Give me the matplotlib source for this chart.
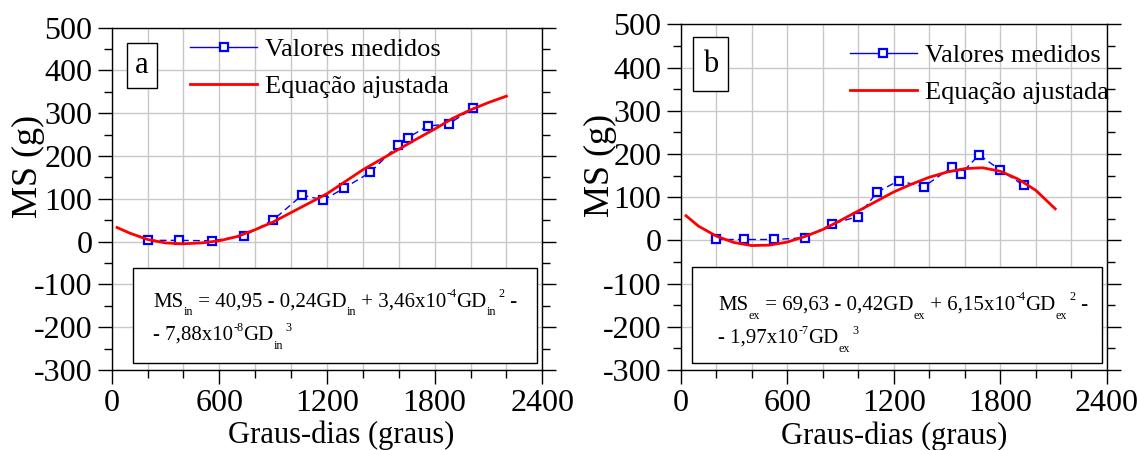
import matplotlib
matplotlib.use("Agg")
import matplotlib.pyplot as plt
from matplotlib.lines import Line2D
from matplotlib.patches import Rectangle
from matplotlib.ticker import MultipleLocator
from matplotlib.transforms import ScaledTranslation

plt.rcParams['font.family'] = ['Liberation Serif', 'DejaVu Serif']
plt.rcParams['axes.unicode_minus'] = False

# ---- Panel a data (MS in) ----
gd_a = [205, 373, 561, 739, 901, 1062, 1180, 1295, 1441, 1594, 1651, 1761, 1878, 2015]
ms_a = [3, 3, 2, 14, 51, 109, 97, 125, 162, 225, 243, 270, 275, 312]
fit_x_a = [30, 100, 200, 300, 400, 500, 600, 700, 800, 900, 1000, 1100, 1200,
           1300, 1400, 1500, 1600, 1700, 1800, 1900, 2000, 2100, 2200]
fit_y_a = [33, 20, 5, -3, -5, -3, 2, 12, 28, 46, 68, 90, 112,
           140, 168, 192, 216, 240, 263, 288, 308, 325, 340]

# ---- Panel b data (MS ex) ----
gd_b = [197, 355, 527, 700, 854, 997, 1108, 1228, 1369, 1527, 1579, 1681, 1799, 1934]
ms_b = [2, 2, 2, 6, 38, 55, 112, 138, 124, 169, 154, 198, 163, 127]
fit_x_b = [30, 100, 200, 300, 400, 500, 600, 700, 800, 900, 1000, 1100, 1200,
           1300, 1400, 1500, 1600, 1700, 1800, 1900, 2000, 2110]
fit_y_b = [57, 33, 10, -5, -12, -11, -4, 9, 25, 46, 68, 90, 112,
           130, 146, 158, 166, 168, 160, 142, 116, 73]

xticks = [0, 600, 1200, 1800, 2400]
yticks = [-300, -200, -100, 0, 100, 200, 300, 400, 500]
legend_labels = ["Valores medidos", "Equação ajustada"]
xlabel = "Graus-dias (graus)"
ylabel = "MS (g)"
eq_a = [[("MS", "n"), ("in", "sub"), (" = 40,95 - 0,24GD", "n"), ("in", "sub"),
         (" + 3,46x10", "n"), ("-4", "sup"), ("GD", "n"), ("in", "sub"), (" 2", "sup"), (" -", "n")],
        [("- 7,88x10", "n"), ("-8", "sup"), ("GD", "n"), ("in", "sub"), (" 3", "sup")]]
eq_b = [[("MS", "n"), ("ex", "sub"), (" = 69,63 - 0,42GD", "n"), ("ex", "sub"),
         (" + 6,15x10", "n"), ("-4", "sup"), ("GD", "n"), ("ex", "sub"), (" 2", "sup"), (" -", "n")],
        [("- 1,97x10", "n"), ("-7", "sup"), ("GD", "n"), ("ex", "sub"), (" 3", "sup")]]

W, H = 1137, 450
fig = plt.figure(figsize=(W / 100, H / 100), dpi=100)
renderer = fig.canvas.get_renderer()

def px_axes(l, r, t, b):
    return [l / W, 1 - b / H, (r - l) / W, (b - t) / H]

ax_a = fig.add_axes(px_axes(111.7, 542.3, 27.7, 370))
ax_b = fig.add_axes(px_axes(680.7, 1106.7, 24.3, 370))

def rich_text(ax, x, y, runs, size):
    off = 0.0
    for txt, kind in runs:
        if kind == 'n':
            fs, dy = size, 0.0
        elif kind == 'sub':
            fs, dy = size * 0.58, -size * 0.42
        else:
            fs, dy = size * 0.58, size * 0.45
        tr = ax.transAxes + ScaledTranslation(off / fig.dpi, dy / 72, fig.dpi_scale_trans)
        t = ax.text(x, y, txt, transform=tr, fontsize=fs, ha='left', va='baseline', zorder=6)
        off += t.get_window_extent(renderer).width

def style(ax, gd, ms, fx, fy, letter, letter_box, leg_anchor, eq, eq_box, eq_xy, xlab_x, ylab_xy):
    ax.set_xlim(0, 2400)
    ax.set_ylim(-300, 500)
    ax.grid(True, which='minor', axis='x', color='#c8c8c8', lw=1.0)
    ax.grid(True, which='major', axis='both', color='#c8c8c8', lw=1.0)
    ax.set_axisbelow(True)
    ax.plot(gd, ms, color='blue', lw=1.0, ls=(0, (5, 3)), marker='s', ms=6,
            mfc='white', mec='blue', mew=1.6, zorder=3)
    ax.plot(fx, fy, color='red', lw=2.0, zorder=4)
    ax.set_xticks(xticks)
    ax.set_yticks(yticks)
    ax.xaxis.set_minor_locator(MultipleLocator(200))
    ax.yaxis.set_minor_locator(MultipleLocator(50))
    ax.tick_params(axis='both', which='major', direction='out', length=10, width=1.0,
                   labelsize=23, pad=4, colors='black')
    ax.tick_params(axis='both', which='minor', direction='out', length=6, width=1.0)
    ax.tick_params(axis='y', which='both', right=True)
    ax.tick_params(axis='y', which='major', right=True, labelright=False)
    for s in ax.spines.values():
        s.set_linewidth(1.0)
        s.set_color('black')
    ax.set_xlabel(xlabel, fontsize=22)
    ax.set_ylabel(ylabel, fontsize=26)
    ax.xaxis.set_label_coords(xlab_x, -0.148)
    ax.yaxis.set_label_coords(*ylab_xy)
    # letter box
    x0, x1, y0, y1 = letter_box
    ax.add_patch(Rectangle((x0, y0), x1 - x0, y1 - y0, transform=ax.transAxes,
                           fill=True, fc='white', ec='black', lw=1.0, zorder=5))
    ax.text((x0 + x1) / 2, (y0 + y1) / 2, letter, transform=ax.transAxes,
            fontsize=22, ha='center', va='center', zorder=6)
    # legend
    handles = [Line2D([], [], color='blue', lw=1.0, marker='s', ms=6, mfc='white',
                      mec='blue', mew=1.6),
               Line2D([], [], color='red', lw=2.0)]
    ax.legend(handles, legend_labels, loc='upper left', bbox_to_anchor=leg_anchor,
              frameon=False, fontsize=19, handlelength=2.55, handletextpad=0.3,
              borderpad=0, borderaxespad=0, labelspacing=0.5)
    # equation box
    x0, x1, y0, y1 = eq_box
    ax.add_patch(Rectangle((x0, y0), x1 - x0, y1 - y0, transform=ax.transAxes,
                           fill=True, fc='white', ec='black', lw=1.0, zorder=5))
    rich_text(ax, eq_xy[0], eq_xy[1], eq[0], 15)
    rich_text(ax, eq_xy[0], eq_xy[2], eq[1], 15)

style(ax_a, gd_a, ms_a, fit_x_a, fit_y_a, 'a', (0.0348, 0.1059, 0.823, 0.954),
      (0.182, 0.97), eq_a, (0.0488, 0.987, 0.0196, 0.297), (0.0966, 0.185, 0.0876),
      0.5325, (-0.154, 0.596))
style(ax_b, gd_b, ms_b, fit_x_b, fit_y_b, 'b', (0.0296, 0.1117, 0.808, 0.962),
      (0.397, 0.943), eq_b, (0.0272, 0.988, 0.0194, 0.2966), (0.0887, 0.174, 0.078),
      0.5, (-0.149, 0.593))

fig.savefig('out.png', dpi=100)
